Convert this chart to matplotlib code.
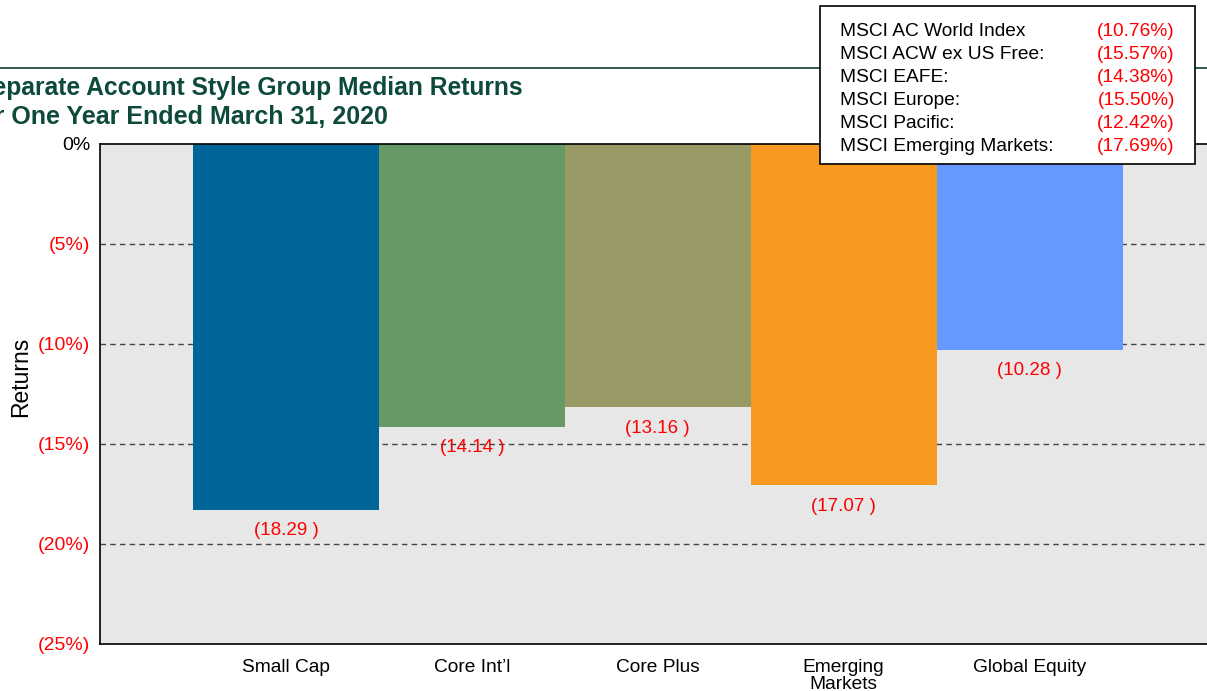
import matplotlib.pyplot as plt
from matplotlib.patches import Rectangle
from matplotlib.ticker import FuncFormatter

plt.rcParams['font.family'] = ['Liberation Sans', 'DejaVu Sans']

categories = ['Small Cap', "Core Int\u2019l", 'Core Plus', 'Emerging\nMarkets', 'Global Equity']
returns = [-18.29, -14.14, -13.16, -17.07, -10.28]
bar_colors = ['#006699', '#669966', '#999966', '#f7991f', '#6699ff']

index_names = ['MSCI AC World Index', 'MSCI ACW ex US Free:', 'MSCI EAFE:',
               'MSCI Europe:', 'MSCI Pacific:', 'MSCI Emerging Markets:']
index_returns = [-10.76, -15.57, -14.38, -15.50, -12.42, -17.69]

y_ticks = [0, -5, -10, -15, -20, -25]

W, H = 1207, 691
fig = plt.figure(figsize=(W / 100, H / 100), dpi=100)

# rule under the header
fig.add_artist(plt.Line2D([0, 1], [1 - 68 / H, 1 - 68 / H], color='#1f4d45', lw=1.3))

fig.text(523 / W, 1 - 88 / H, 'Separate Account Style Group Median Returns',
         ha='right', va='center', fontsize=17.7, weight='bold', color='#0d4a3c')
fig.text(388 / W, 1 - 117 / H, 'For One Year Ended March 31, 2020',
         ha='right', va='center', fontsize=18, weight='bold', color='#0d4a3c')

ax = fig.add_axes([100 / W, 47 / H, (1215.5 - 100) / W, 500 / H])
ax.set_facecolor('#e7e7e7')
x = list(range(len(categories)))
ax.bar(x, returns, width=1.0, color=bar_colors, zorder=2)

for xi, v in zip(x, returns):
    ax.annotate('(%.2f )' % abs(v), (xi, v), xytext=(0, -15), textcoords='offset points',
                ha='center', va='center', fontsize=13.5, color='red', zorder=3)

ax.set_xlim(-1, 5)
ax.set_ylim(-25, 0)
ax.set_yticks(y_ticks)
ax.yaxis.set_major_formatter(FuncFormatter(lambda v, p: '0%' if v == 0 else '(%d%%)' % abs(v)))
ax.set_xticks(x)
ax.set_xticklabels(categories, fontsize=13.8, linespacing=0.95)
ax.tick_params(axis='both', length=0)
ax.tick_params(axis='x', pad=11)
ax.tick_params(axis='y', pad=7, labelsize=14)
for lbl, t in zip(ax.get_yticklabels(), y_ticks):
    lbl.set_color('black' if t == 0 else 'red')

for t in y_ticks[1:-1]:
    ax.axhline(t, color='#444444', lw=1, ls=(0, (4, 3)), zorder=1)

for s in ax.spines.values():
    s.set_color('black')
    s.set_linewidth(1.2)

fig.text(21 / W, 1 - 377 / H, 'Returns', rotation=90, ha='center', va='center', fontsize=16.5)

# index returns box
fig.add_artist(Rectangle((820 / W, 1 - 164 / H), 375 / W, 158 / H, transform=fig.transFigure,
                         facecolor='white', edgecolor='black', lw=1.2, zorder=5))
for i, (name, v) in enumerate(zip(index_names, index_returns)):
    yy = 1 - (36 + 23 * i) / H
    fig.text(840 / W, yy, name, ha='left', va='baseline', fontsize=13.8, zorder=6)
    fig.text(1175 / W, yy, '(%.2f%%)' % abs(v), ha='right', va='baseline', fontsize=13.8,
             color='red', zorder=6)

fig.savefig('out.png', dpi=100)
